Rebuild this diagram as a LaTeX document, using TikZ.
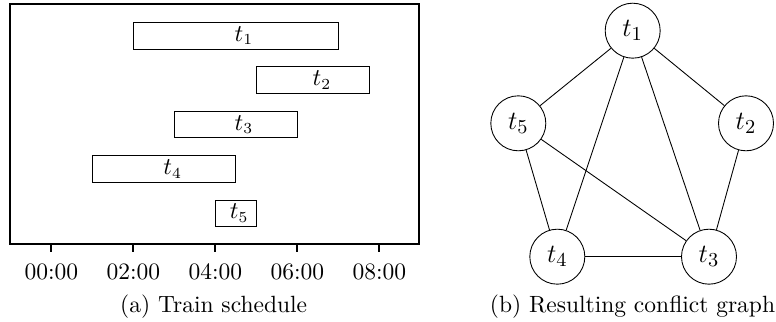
\documentclass[tikz,border=0pt]{standalone}
\usetikzlibrary{positioning}
\begin{document}
\begin{tikzpicture}[font=\fontsize{10.7}{13}\selectfont, bar/.style={draw}, vertex/.style={draw,circle,minimum size=0.88cm,inner sep=0pt,font=\fontsize{12.8}{15}\selectfont}]
\useasboundingbox (0,0) rectangle (12.416,-5.152);
% (a) schedule, x in hours
\begin{scope}[shift={(0.821,-3.904)},x=0.656cm,y=0.7104cm]
\draw[thick] (-1,0) rectangle (8.97,5.405);
\foreach \s/\e/\y/\n/\l in {2/7/4.69/1/4.7, 5/7.75/3.69/2/6.6, 3/6/2.69/3/4.7, 1/4.5/1.69/4/2.96, 4/5/0.69/5/4.58}{
  \draw[bar] (\s,\y-0.3) rectangle (\e,\y+0.3);
  \node (s\n) at (\l,\y) {$t_{\n}$};
}
\foreach \h in {0,2,4,6,8}{
  \draw[thick] (\h,0) -- (\h,-0.18);
  \node (tick\h) at (\h,-0.63) {0\h:00};
}
\node (capa) at (3.96,-1.4) {(a) Train schedule};
\end{scope}
% (b) conflict graph
\node[vertex] (t1) at (10.123,-0.491) {$t_1$};
\node[vertex] (t5) at (8.293,-1.973) {$t_5$};
\node[vertex] (t2) at (11.936,-1.973) {$t_2$};
\node[vertex] (t4) at (8.917,-4.107) {$t_4$};
\node[vertex] (t3) at (11.344,-4.107) {$t_3$};
\draw (t1) -- (t5);
\draw (t1) -- (t2);
\draw (t1) -- (t4);
\draw (t1) -- (t3);
\draw (t5) -- (t4);
\draw (t5) -- (t3);
\draw (t2) -- (t3);
\draw (t4) -- (t3);
\node (capb) at (10.12,-4.9) {(b) Resulting conflict graph};
\end{tikzpicture}
\end{document}
